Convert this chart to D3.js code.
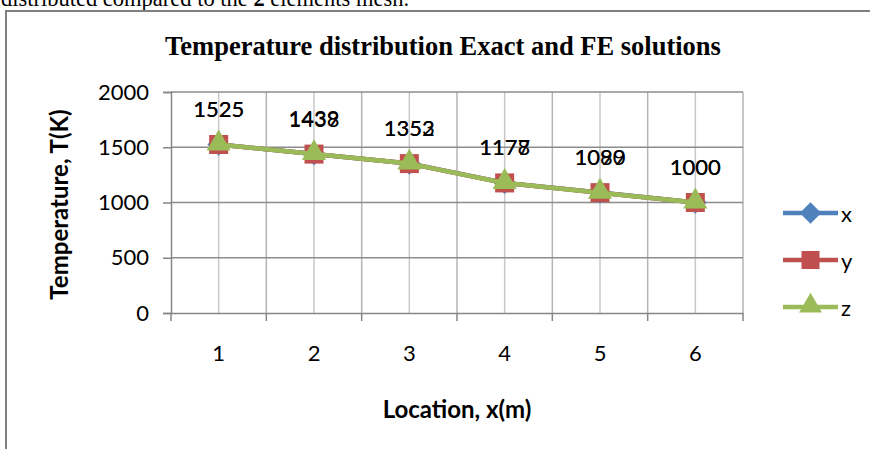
<!DOCTYPE html>
<html lang="en">
<head>
<meta charset="UTF-8">
<title>Temperature distribution</title>
<script src="https://d3js.org/d3.v7.min.js"></script>
<style>
  body { margin: 0; background: #fff; overflow: hidden; }
</style>
</head>
<body>
<div id="chart"></div>
<script>
// data
var locations = ["1", "2", "3", "4", "5", "6"];
var xValues = [1525, 1439, 1353, 1178, 1090, 1000];
var yValues = [1525, 1438, 1352, 1177, 1089, 1000];
var zValues = [1525, 1438, 1352, 1177, 1089, 1000];
var yTicks = [0, 500, 1000, 1500, 2000];
var seriesNames = ["x", "y", "z"];
var seriesColors = ["#4F81BD", "#C0504D", "#9BBB59"];

var W = 870, H = 449;
var plot = { left: 171, right: 743, top: 92, bottom: 313 };
var labelFont = "Lato, 'Open Sans', sans-serif";

var svg = d3.select("#chart").append("svg")
  .attr("width", W).attr("height", H);

// text of the page above the chart (cut off at the top in the original)
var pageText = svg.append("text")
  .attr("x", 1).attr("y", 6)
  .style("font-family", "'Liberation Serif', 'Times New Roman', serif")
  .style("font-size", "22.5px")
  .attr("fill", "#000");
pageText.append("tspan").text("distributed compared to the ");
pageText.append("tspan").style("font-weight", "bold").text("2");
pageText.append("tspan").text(" elements mesh.");

// chart frame
svg.append("rect")
  .attr("x", 6).attr("y", 11)
  .attr("width", W + 20).attr("height", H + 20)
  .attr("fill", "none").attr("stroke", "#808080").attr("stroke-width", 2);

var x = d3.scaleBand().domain(locations).range([plot.left, plot.right]);
var y = d3.scaleLinear().domain([0, 2000]).range([plot.bottom, plot.top]);

// vertical gridlines: band centres (lighter) and band edges
svg.append("g").selectAll("line")
  .data(locations).join("line")
  .attr("x1", d => x(d) + x.bandwidth() / 2).attr("x2", d => x(d) + x.bandwidth() / 2)
  .attr("y1", plot.top).attr("y2", plot.bottom)
  .attr("stroke", "#c8c8c8").attr("stroke-width", 1.5);

svg.append("g").selectAll("line")
  .data(locations.slice(1).concat(["end"])).join("line")
  .attr("x1", d => d === "end" ? plot.right : x(d))
  .attr("x2", d => d === "end" ? plot.right : x(d))
  .attr("y1", plot.top).attr("y2", plot.bottom)
  .attr("stroke", "#b4b4b4").attr("stroke-width", 1.5);

// horizontal gridlines
svg.append("g").selectAll("line")
  .data(yTicks.slice(1)).join("line")
  .attr("x1", plot.left).attr("x2", plot.right)
  .attr("y1", d => y(d)).attr("y2", d => y(d))
  .attr("stroke", "#8c8c8c").attr("stroke-width", 1.5);

// y axis
var yAxis = svg.append("g")
  .attr("transform", "translate(" + plot.left + ",0)")
  .call(d3.axisLeft(y).tickValues(yTicks).tickFormat(d3.format("d")).tickSize(8).tickPadding(14));
yAxis.select(".domain").attr("stroke", "#868686").attr("stroke-width", 1.5);
yAxis.selectAll(".tick line").attr("stroke", "#868686").attr("stroke-width", 1.5);
yAxis.selectAll(".tick text")
  .style("font-family", labelFont).style("font-size", "22px").attr("fill", "#000");

// x axis: ticks sit on band edges
var xAxis = svg.append("g")
  .attr("transform", "translate(0," + plot.bottom + ")")
  .call(d3.axisBottom(x).tickSize(0).tickPadding(32));
xAxis.select(".domain").attr("stroke", "#868686").attr("stroke-width", 1.5);
xAxis.selectAll(".tick text")
  .style("font-family", labelFont).style("font-size", "22px").attr("fill", "#000");
xAxis.selectAll(".edge")
  .data(locations.concat(["end"])).join("line")
  .attr("class", "edge")
  .attr("x1", d => d === "end" ? plot.right : x(d))
  .attr("x2", d => d === "end" ? plot.right : x(d))
  .attr("y1", 0).attr("y2", 8)
  .attr("stroke", "#868686").attr("stroke-width", 1.5);

// series
var allSeries = [xValues, yValues, zValues];
var line = d3.line()
  .x((d, i) => x(locations[i]) + x.bandwidth() / 2)
  .y(d => y(d));

function marker(g, k, size) {
  if (k === 0) {
    g.append("path").attr("d", d3.symbol(d3.symbolDiamond2, size * size * 0.9)())
      .attr("fill", seriesColors[k]);
  } else if (k === 1) {
    g.append("rect").attr("x", -size / 2).attr("y", -size / 2)
      .attr("width", size).attr("height", size).attr("fill", seriesColors[k]);
  } else {
    g.append("path").attr("d", d3.symbol(d3.symbolTriangle, size * size * 0.7)())
      .attr("transform", "translate(0,-1)")
      .attr("fill", seriesColors[k]);
  }
}

allSeries.forEach(function (vals, k) {
  svg.append("path")
    .datum(vals)
    .attr("fill", "none")
    .attr("stroke", seriesColors[k])
    .attr("stroke-width", 4.5)
    .attr("stroke-linejoin", "round")
    .attr("d", line);
  vals.forEach(function (v, i) {
    var g = svg.append("g")
      .attr("transform", "translate(" + (x(locations[i]) + x.bandwidth() / 2) + "," + y(v) + ")");
    marker(g, k, 19);
  });
});

// data labels (x and y series, drawn on top of each other)
[xValues, yValues].forEach(function (vals) {
  svg.append("g").selectAll("text")
    .data(vals).join("text")
    .attr("x", (d, i) => x(locations[i]) + x.bandwidth() / 2)
    .attr("y", d => y(d) - 36)
    .attr("text-anchor", "middle")
    .attr("dominant-baseline", "central")
    .style("font-family", labelFont).style("font-size", "22px")
    .attr("fill", "#000")
    .text(d => d);
});

// title
svg.append("text")
  .attr("x", 443).attr("y", 55)
  .attr("text-anchor", "middle")
  .style("font-family", "'Liberation Serif', 'Times New Roman', serif")
  .style("font-size", "26.5px").style("font-weight", "bold")
  .text("Temperature distribution Exact and FE solutions");

// axis titles
svg.append("text")
  .attr("transform", "translate(68," + ((plot.top + plot.bottom) / 2 + 2) + ") rotate(-90)")
  .attr("text-anchor", "middle")
  .style("font-family", labelFont).style("font-size", "24px").style("font-weight", "bold")
  .text("Temperature, T(K)");

svg.append("text")
  .attr("x", 457).attr("y", 418)
  .attr("text-anchor", "middle")
  .style("font-family", labelFont).style("font-size", "24px").style("font-weight", "bold")
  .text("Location, x(m)");

// legend
var legend = svg.append("g").attr("transform", "translate(783,213)");
seriesNames.forEach(function (name, k) {
  var row = legend.append("g").attr("transform", "translate(0," + (k * 47) + ")");
  row.append("line").attr("x1", 0).attr("x2", 55).attr("y1", 0).attr("y2", 0)
    .attr("stroke", seriesColors[k]).attr("stroke-width", 4.5);
  var m = row.append("g").attr("transform", "translate(27.5,0)");
  marker(m, k, 18);
  row.append("text").attr("x", 58).attr("y", 0)
    .attr("dominant-baseline", "central")
    .style("font-family", labelFont).style("font-size", "22px")
    .text(name);
});
</script>
</body>
</html>
